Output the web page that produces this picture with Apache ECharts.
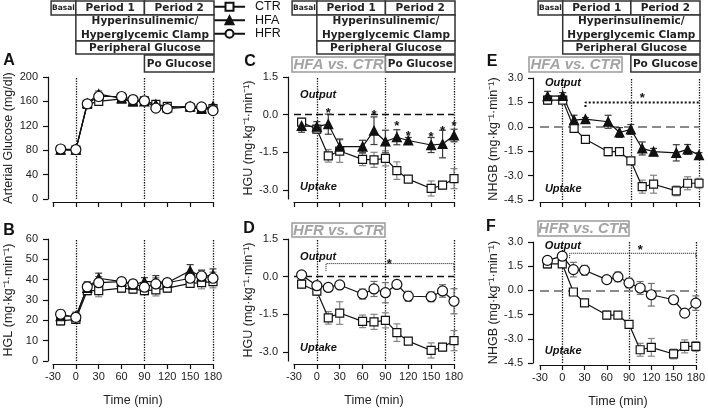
<!DOCTYPE html>
<html>
<head>
<meta charset="utf-8">
<script src="https://cdn.jsdelivr.net/npm/echarts@6/dist/echarts.min.js"></script>
</head>
<body style="margin:0;background:#fff">
<div id="main" style="width:708px;height:410px;"></div>
<script>
// sampling times (min)
var times = [-20, 0, 15, 30, 60, 75, 90, 105, 120, 150, 165, 180];

// A: arterial glucose (mg/dl)
var glucCTR = [80, 80, 155, 160, 164, 159, 161, 155, 152, 150, 147, 148];
var glucHFA = [81, 81, 157, 172, 165, 160, 160, 155, 150, 152, 148, 152];
var glucHFR = [82, 81, 156, 168, 168, 163, 161, 149, 148, 151, 151, 145];
var glucErrCTR = [3, 3, 4, 4, 3, 3, 3, 3, 3, 3, 3, 3];
var glucErrHFA = [3, 3, 4, 5, 4, 3, 3, 3, 3, 3, 3, 3];
var glucErrHFR = [3, 3, 4, 4, 3, 3, 3, 3, 3, 3, 3, 3];

// B: hepatic glucose load
var hglCTR = [19.7, 20.5, 34.6, 34.6, 35.8, 35.3, 34.6, 35.0, 35.8, 38.2, 38.5, 39.0];
var hglHFA = [22, 22, 36, 40.7, 39, 37.5, 39, 39, 38.5, 44.4, 41.5, 42.3];
var hglHFR = [23, 21.5, 36.5, 38.5, 39, 37.9, 36.3, 37.9, 38.5, 40.7, 41.8, 40.7];
var hglErrCTR = [2, 2, 2, 3, 2, 2, 2, 3, 2, 2, 3, 3];
var hglErrHFA = [2, 2, 3, 2.5, 2, 2, 2, 3, 2, 3, 3, 3];
var hglErrHFR = [2, 2, 2, 3, 2, 2, 2, 3, 2, 2, 3, 3];

// C/D: hepatic glucose uptake
var hguCTR = [-0.30, -0.58, -1.64, -1.45, -1.78, -1.80, -1.74, -2.23, -2.57, -2.94, -2.81, -2.55];
var hguErrCTR = [0.15, 0.15, 0.25, 0.45, 0.25, 0.3, 0.3, 0.35, 0.12, 0.3, 0.15, 0.4];
var hguHFA = [-0.45, -0.48, -0.38, -1.27, -1.27, -0.64, -1.07, -0.90, -1.03, -1.21, -1.17, -0.83];
var hguErrHFA = [0.25, 0.2, 0.4, 0.3, 0.25, 0.55, 0.45, 0.3, 0.12, 0.3, 0.55, 0.25];
var hguHFR = [0.07, -0.36, -0.43, -0.33, -0.69, -0.49, -0.64, -0.31, -0.78, -0.80, -0.57, -0.98];
var hguErrHFR = [0.1, 0.15, 0.15, 0.05, 0.2, 0.3, 0.4, 0.05, 0.2, 0.2, 0.25, 0.5];

// E/F: net hepatic glucose balance
var nhgbCTR = [1.64, 1.64, -0.10, -0.77, -1.53, -1.53, -2.10, -3.68, -3.53, -3.94, -3.47, -3.47];
var nhgbErrCTR = [0.25, 0.2, 0.1, 0.1, 0.25, 0.1, 0.2, 0.4, 0.55, 0.3, 0.4, 0.3];
var nhgbHFA = [1.88, 1.90, 0.41, 0.47, 0.31, -0.35, -0.16, -1.33, -1.53, -1.60, -1.39, -1.74];
var nhgbErrHFA = [0.3, 0.2, 0.3, 0.1, 0.4, 0.3, 0.3, 0.4, 0.2, 0.5, 0.3, 0.15];
var nhgbHFR = [1.86, 2.12, 1.29, 1.25, 0.67, 0.84, 0.46, 0.15, -0.27, -0.58, -1.41, -0.79];
var nhgbErrHFR = [0.2, 0.15, 0.45, 0.3, 0.1, 0.3, 0.3, 0.4, 0.7, 0.1, 0.15, 0.45];

// significance marks [time, value]
var starsC = [[15, 0.2], [75, 0.12], [105, -0.32], [120, -0.72], [150, -0.76], [165, -0.52], [180, -0.32]];
var starsD = [[95, 0.63]];
var starsE = [[105, 1.94]];
var starsF = [[105, 2.67]];
var bracketD = [[12, 0.23], [12, 0.52], [180, 0.52], [180, 0.23]];
var bracketE = [[30, 1.21], [30, 1.5], [180, 1.5]];
var bracketF = [[10, 2.0], [10, 2.3], [180, 2.3], [180, 2.0]];

var hguTicks = [-3, -1.5, 0, 1.5];

var FONT = 'Liberation Sans';

var grids = [
    { left: 53, top: 77, width: 160, height: 122 },
    { left: 53, top: 239, width: 160, height: 122 },
    { left: 294, top: 77, width: 160, height: 122 },
    { left: 294, top: 239, width: 160, height: 122 },
    { left: 540, top: 78, width: 159, height: 122 },
    { left: 540, top: 242, width: 159, height: 121 }
];

var unit = 'mg·kg⁻¹·min⁻¹';
function xAx(g, labels, off) {
    return {
        gridIndex: g, type: 'value', min: -30, max: 180, interval: 30, offset: off,
        axisLine: { onZero: false, lineStyle: { color: '#111', width: 1.2 } },
        axisTick: { length: 5, lineStyle: { color: '#111', width: 1.2 } },
        axisLabel: { show: labels, fontSize: 11, color: '#222', margin: 7, fontFamily: FONT },
        splitLine: { show: false },
        name: labels ? 'Time (min)' : '', nameLocation: 'middle', nameGap: 30,
        nameTextStyle: { fontSize: 12.5, color: '#222', fontFamily: FONT }
    };
}
function yAx(g, name, off, opt) {
    var a = {
        gridIndex: g, type: 'value', offset: off,
        axisLine: { show: true, onZero: false, lineStyle: { color: '#111', width: 1.2 } },
        axisTick: { show: true, length: 5, lineStyle: { color: '#111', width: 1.2 } },
        axisLabel: { fontSize: 11, color: '#222', margin: 10, fontFamily: FONT },
        splitLine: { show: false },
        name: name, nameLocation: 'middle', nameGap: 33, nameRotate: 90,
        nameTextStyle: { fontSize: 12.5, color: '#222', fontFamily: FONT }
    };
    for (var k in opt) {
        if (k === 'axisTick' || k === 'axisLabel') Object.assign(a[k], opt[k]);
        else a[k] = opt[k];
    }
    return a;
}
function dec(v) { return v.toFixed(1); }

var xAxes = [xAx(0, false, 3), xAx(1, true, 3), xAx(2, false, 3), xAx(3, true, 3), xAx(4, false, 2), xAx(5, true, 2)];
var yAxes = [
    yAx(0, 'Arterial Glucose (mg/dl)', 5, { min: 0, max: 200, interval: 40 }),
    yAx(1, 'HGL (' + unit + ')', 5, { min: 0, max: 60, interval: 10 }),
    yAx(2, 'HGU (' + unit + ')', 6, { min: -3.36, max: 1.5, axisTick: { customValues: hguTicks }, axisLabel: { customValues: hguTicks, formatter: dec } }),
    yAx(3, 'HGU (' + unit + ')', 6, { min: -3.36, max: 1.5, axisTick: { customValues: hguTicks }, axisLabel: { customValues: hguTicks, formatter: dec } }),
    yAx(4, 'NHGB (' + unit + ')', 7, { min: -4.5, max: 3, interval: 1.5, axisLabel: { formatter: dec } }),
    yAx(5, 'NHGB (' + unit + ')', 7, { min: -4.5, max: 3, interval: 1.5, axisLabel: { formatter: dec } })
];

var styles = {
    CTR: { symbol: 'rect', size: 8, fill: '#fff', err: '#858585' },
    HFA: { symbol: 'triangle', size: 9, fill: '#111', err: '#3a3a3a' },
    HFR: { symbol: 'circle', size: 10, fill: '#fff', err: '#707070' }
};

function errBar(color) {
    return function (params, api) {
        var lo = api.coord([api.value(0), api.value(1)]);
        var hi = api.coord([api.value(0), api.value(2)]);
        var w = 3.5, st = { stroke: color, lineWidth: 1.2 };
        return { type: 'group', children: [
            { type: 'line', shape: { x1: lo[0], y1: lo[1], x2: hi[0], y2: hi[1] }, style: st },
            { type: 'line', shape: { x1: lo[0] - w, y1: lo[1], x2: lo[0] + w, y2: lo[1] }, style: st },
            { type: 'line', shape: { x1: hi[0] - w, y1: hi[1], x2: hi[0] + w, y2: hi[1] }, style: st }
        ] };
    };
}

var series = [];
// reference lines: period boundaries (dotted) and zero balance (dashed)
function addRefLines(g, data, style) {
    series.push({
        type: 'line', xAxisIndex: g, yAxisIndex: g, z: 1, silent: true, data: [], symbol: 'none',
        markLine: { silent: true, z: 1, symbol: ['none', 'none'], label: { show: false },
            lineStyle: style, data: data }
    });
}
function addGroup(g, name, vals, errs) {
    var s = styles[name];
    series.push({
        type: 'custom', xAxisIndex: g, yAxisIndex: g, z: 2, silent: true,
        encode: { x: 0, y: [1, 2] },
        data: times.map(function (t, i) { return [t, vals[i] - errs[i], vals[i] + errs[i]]; }),
        renderItem: errBar(s.err)
    });
    series.push({
        type: 'line', name: name, xAxisIndex: g, yAxisIndex: g, z: 3,
        data: times.map(function (t, i) { return [t, vals[i]]; }),
        symbol: s.symbol, symbolSize: s.size, showAllSymbol: true,
        lineStyle: { color: '#111', width: 1.2 },
        itemStyle: { color: s.fill, borderColor: '#111', borderWidth: 1.2 }
    });
}
var vlines = [{ xAxis: 0 }, { xAxis: 90 }, { xAxis: 180 }];
var dotStyle = { type: 'dotted', color: '#111', width: 1.3 };
var zeroBlack = { type: [7, 4], color: '#111', width: 1.3 };
var zeroGray = { type: [9, 5], color: '#8a8a8a', width: 2 };

[0, 1, 2, 3, 4, 5].forEach(function (g) { addRefLines(g, vlines, dotStyle); });
addRefLines(2, [{ yAxis: 0 }], zeroBlack);
addRefLines(3, [{ yAxis: 0 }], zeroBlack);
addRefLines(4, [{ yAxis: 0 }], zeroGray);
addRefLines(5, [{ yAxis: 0 }], zeroGray);

function addBracket(g, pts, w) {
    series.push({
        type: 'line', xAxisIndex: g, yAxisIndex: g, z: 1, silent: true, data: pts, symbol: 'none',
        lineStyle: { type: 'dotted', color: '#111', width: w }
    });
}
addBracket(3, bracketD, 1);
addBracket(4, bracketE, 2);
addBracket(5, bracketF, 1);

addGroup(0, 'CTR', glucCTR, glucErrCTR);
addGroup(0, 'HFA', glucHFA, glucErrHFA);
addGroup(0, 'HFR', glucHFR, glucErrHFR);
addGroup(1, 'CTR', hglCTR, hglErrCTR);
addGroup(1, 'HFA', hglHFA, hglErrHFA);
addGroup(1, 'HFR', hglHFR, hglErrHFR);
addGroup(2, 'CTR', hguCTR, hguErrCTR);
addGroup(2, 'HFA', hguHFA, hguErrHFA);
addGroup(3, 'CTR', hguCTR, hguErrCTR);
addGroup(3, 'HFR', hguHFR, hguErrHFR);
addGroup(4, 'CTR', nhgbCTR, nhgbErrCTR);
addGroup(4, 'HFA', nhgbHFA, nhgbErrHFA);
addGroup(5, 'CTR', nhgbCTR, nhgbErrCTR);
addGroup(5, 'HFR', nhgbHFR, nhgbErrHFR);

function addStars(g, pts) {
    series.push({
        type: 'custom', xAxisIndex: g, yAxisIndex: g, z: 4, silent: true, data: pts,
        renderItem: function (params, api) {
            var p = api.coord([api.value(0), api.value(1)]);
            return { type: 'text', x: p[0], y: p[1] + 3.5,
                style: { text: '*', font: 'bold 13px ' + FONT, fill: '#111', textAlign: 'center', textVerticalAlign: 'middle' } };
        }
    });
}
addStars(2, starsC);
addStars(3, starsD);
addStars(4, starsE);
addStars(5, starsF);

var chart = echarts.init(document.getElementById('main'));
chart.setOption({
    animation: false,
    textStyle: { fontFamily: FONT },
    legend: {
        orient: 'vertical', left: 213, top: 0, padding: 0, itemGap: 0,
        itemWidth: 31, itemHeight: 10,
        data: ['CTR', 'HFA', 'HFR'],
        textStyle: { fontSize: 12.5, color: '#111', lineHeight: 13.5, padding: [0, 0, 0, 5] }
    },
    grid: grids,
    xAxis: xAxes,
    yAxis: yAxes,
    series: series
});

// header boxes, panel labels and annotations
function px(g, t) { return chart.convertToPixel({ gridIndex: g }, [t, 0])[0]; }
function pt(g, c) { return chart.convertToPixel({ gridIndex: g }, c); }
var HFONT = 'bold 10.5px "DejaVu Sans"';
function box(x, y, w, h, text, font, color, stroke, lh) {
    return [
        { type: 'rect', shape: { x: x, y: y, width: w, height: h },
          style: { fill: '#fff', stroke: stroke || '#333', lineWidth: 1.5 }, z: 10 },
        { type: 'text', x: x + w / 2, y: y + h / 2 + 0.5, z: 11,
          style: { text: text, font: font || HFONT, fill: color || '#222', textAlign: 'center', textVerticalAlign: 'middle', lineHeight: lh || 14 } }
    ];
}
var els = [];
[0, 2, 4].forEach(function (g) {
    var xb = px(g, -32.5), x0 = px(g, 0), x90 = px(g, 90), x180 = px(g, 180) + 1;
    els = els.concat(
        box(xb, 1, x0 - xb, 14, 'Basal', 'bold 7.5px "DejaVu Sans"'),
        box(x0, 1, x90 - x0, 14, 'Period 1'),
        box(x90, 1, x180 - x90, 14, 'Period 2'),
        box(x0, 15, x180 - x0, 26, 'Hyperinsulinemic/\nHyperglycemic Clamp', null, null, null, 13.5),
        box(x0, 41, x180 - x0, 13, 'Peripheral Glucose'),
        box(x90, 55, x180 - x90, 17, 'Po Glucose')
    );
});
var VSFONT = 'italic bold 15px ' + FONT;
els = els.concat(
    box(292, 57, 93, 15, 'HFA vs. CTR', VSFONT, '#a3a3a3', '#9a9a9a'),
    box(292, 223, 93, 14, 'HFR vs. CTR', VSFONT, '#a3a3a3', '#9a9a9a'),
    box(529, 57, 93, 15, 'HFA vs. CTR', VSFONT, '#a3a3a3', '#9a9a9a'),
    box(538, 221, 91, 15, 'HFR vs. CTR', VSFONT, '#a3a3a3', '#9a9a9a')
);
var letters = [['A', 9, 61], ['B', 9, 231], ['C', 250, 62], ['D', 249, 229], ['E', 492, 62], ['F', 491, 227]];
letters.forEach(function (l) {
    els.push({ type: 'text', x: l[1], y: l[2], z: 11,
        style: { text: l[0], font: 'bold 16px ' + FONT, fill: '#111', textAlign: 'center', textVerticalAlign: 'middle' } });
});
var notes = [
    [2, 'Output', -22, 0.78], [2, 'Uptake', -22, -2.88],
    [3, 'Output', -22, 0.79], [3, 'Uptake', -22, -2.86],
    [4, 'Output', -23.5, 2.68], [4, 'Uptake', -23.5, -3.83],
    [5, 'Output', -23.5, 2.74], [5, 'Uptake', -23.5, -3.75]
];
notes.forEach(function (n) {
    var p = pt(n[0], [n[2], n[3]]);
    els.push({ type: 'text', x: p[0], y: p[1], z: 11,
        style: { text: n[1], font: 'italic bold 11px ' + FONT, fill: '#111', textAlign: 'left', textVerticalAlign: 'middle' } });
});
chart.setOption({ graphic: { elements: els } });
</script>
</body>
</html>
